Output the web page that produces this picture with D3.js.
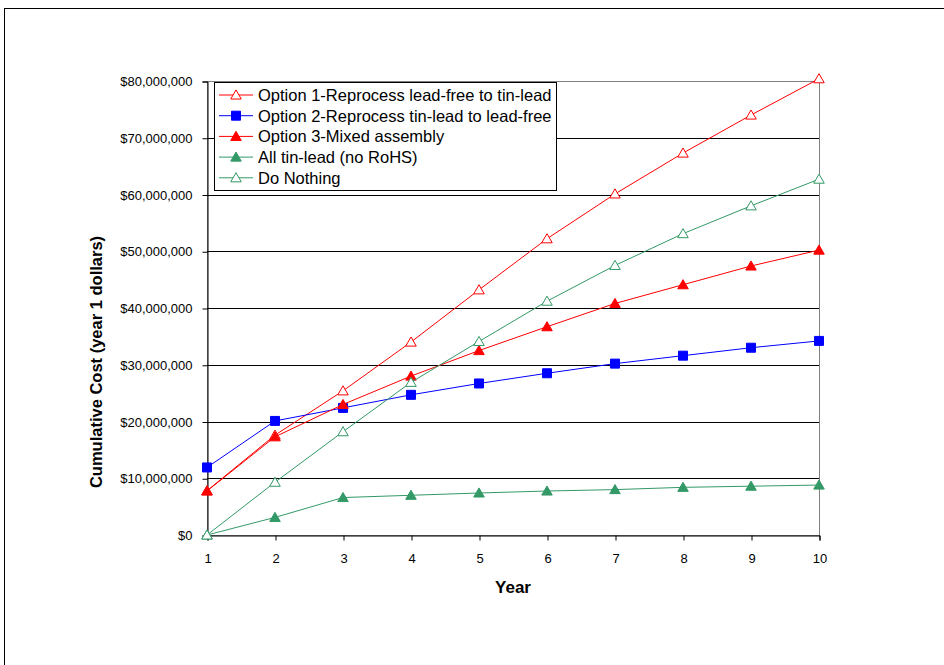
<!DOCTYPE html>
<html>
<head>
<meta charset="utf-8">
<script src="https://cdn.jsdelivr.net/npm/d3@7"></script>
<style>
  html, body { margin: 0; padding: 0; background: #fff; }
  svg text { font-family: "Liberation Sans", Arial, sans-serif; }
</style>
</head>
<body>
<svg id="chart" width="944" height="665"></svg>
<script>
// Cumulative cost per year, in year-1 dollars
const years = [1, 2, 3, 4, 5, 6, 7, 8, 9, 10];
const option1 = [7.8e6, 17.6e6, 25.4e6, 34.0e6, 43.2e6, 52.2e6, 60.1e6, 67.3e6, 74.0e6, 80.4e6];
const option2 = [11.9e6, 20.1e6, 22.4e6, 24.7e6, 26.7e6, 28.5e6, 30.2e6, 31.6e6, 33.0e6, 34.2e6];
const option3 = [7.75e6, 17.3e6, 23.0e6, 28.0e6, 32.5e6, 36.7e6, 40.8e6, 44.1e6, 47.4e6, 50.2e6];
const allTinLead = [0, 3.1e6, 6.6e6, 7.0e6, 7.4e6, 7.75e6, 8.0e6, 8.4e6, 8.6e6, 8.8e6];
const doNothing = [0, 9.3e6, 18.2e6, 26.9e6, 34.1e6, 41.2e6, 47.5e6, 53.1e6, 58.0e6, 62.7e6];
const yTicks = [0, 10e6, 20e6, 30e6, 40e6, 50e6, 60e6, 70e6, 80e6];

const series = [
  { name: "Option 1-Reprocess lead-free to tin-lead", values: option1, color: "#FF0000", marker: "triangle", filled: false },
  { name: "Option 2-Reprocess tin-lead to lead-free", values: option2, color: "#0000FF", marker: "square", filled: true },
  { name: "Option 3-Mixed assembly", values: option3, color: "#FF0000", marker: "triangle", filled: true },
  { name: "All tin-lead (no RoHS)", values: allTinLead, color: "#339966", marker: "triangle", filled: true },
  { name: "Do Nothing", values: doNothing, color: "#339966", marker: "triangle", filled: false }
];

const svg = d3.select("#chart");
const plot = { left: 207, right: 819, top: 81, bottom: 535 };

// Outer chart frame
svg.append("rect")
  .attr("x", 4.5).attr("y", 8.5).attr("width", 1000).attr("height", 700)
  .attr("fill", "none").attr("stroke", "#000").attr("stroke-width", 1);

const x = d3.scaleLinear().domain([1, 10]).range([plot.left, plot.right]);
const y = d3.scaleLinear().domain([0, 80e6]).range([plot.bottom, plot.top]);

// Plot area border
svg.append("rect")
  .attr("x", plot.left + 0.5).attr("y", plot.top + 0.5)
  .attr("width", plot.right - plot.left).attr("height", plot.bottom - plot.top)
  .attr("fill", "none").attr("stroke", "#808080");

// Horizontal gridlines
svg.append("g").selectAll("line")
  .data(yTicks.filter(v => v > 0 && v < 80e6))
  .join("line")
  .attr("x1", plot.left).attr("x2", plot.right)
  .attr("y1", d => Math.round(y(d)) + 0.5).attr("y2", d => Math.round(y(d)) + 0.5)
  .attr("stroke", "#000").attr("stroke-width", 1);

const fmt = d => "$" + d3.format(",")(d);

// Y axis
const yAxis = svg.append("g")
  .attr("transform", `translate(${plot.left + 0.5},0.5)`)
  .call(d3.axisLeft(y).tickValues(yTicks).tickFormat(fmt).tickSize(5).tickPadding(10));
yAxis.selectAll("path, line").attr("stroke", "#000");
yAxis.selectAll("text").attr("font-size", 13).attr("fill", "#000")
  .attr("font-family", "Liberation Sans, Arial, sans-serif");

// X axis
const xAxis = svg.append("g")
  .attr("transform", `translate(0.5,${plot.bottom + 0.5})`)
  .call(d3.axisBottom(x).tickValues(years).tickFormat(d3.format("d")).tickSize(5).tickPadding(13));
xAxis.selectAll("path, line").attr("stroke", "#000");
xAxis.selectAll("text").attr("font-size", 13).attr("fill", "#000")
  .attr("font-family", "Liberation Sans, Arial, sans-serif");

// Axis titles
svg.append("text")
  .attr("x", (plot.left + plot.right) / 2).attr("y", 593)
  .attr("text-anchor", "middle").attr("font-size", 17).attr("font-weight", "bold")
  .text("Year");
svg.append("text")
  .attr("transform", `translate(102,${(plot.top + plot.bottom) / 2 + 54}) rotate(-90)`)
  .attr("text-anchor", "middle").attr("font-size", 16.5).attr("font-weight", "bold")
  .text("Cumulative Cost (year 1 dollars)");

const triangle = d3.symbol().type(d3.symbolTriangle).size(48);
const square = d3.symbol().type(d3.symbolSquare).size(81);

function drawMarker(g, s) {
  const path = s.marker === "square" ? square() : triangle();
  return g.append("path")
    .attr("d", path)
    .attr("fill", s.filled ? s.color : "#fff")
    .attr("stroke", s.color)
    .attr("stroke-width", 1);
}

const line = d3.line().x((d, i) => x(years[i])).y(d => y(d));

// Series lines and markers
series.forEach(s => {
  const g = svg.append("g");
  g.append("path")
    .attr("d", line(s.values))
    .attr("fill", "none").attr("stroke", s.color).attr("stroke-width", 1);
  s.values.forEach((v, i) => {
    drawMarker(g, s).attr("transform", `translate(${x(years[i])},${y(v) + (s.marker === "triangle" ? 1 : 0)})`);
  });
});

// Legend
const legend = svg.append("g");
legend.append("rect")
  .attr("x", 214.5).attr("y", 82.5).attr("width", 342).attr("height", 108)
  .attr("fill", "#fff").attr("stroke", "#000");
series.forEach((s, i) => {
  const cy = 95 + i * 20.7;
  const row = legend.append("g");
  row.append("line").attr("x1", 219).attr("x2", 253).attr("y1", cy).attr("y2", cy)
    .attr("stroke", s.color);
  drawMarker(row, s).attr("transform", `translate(236,${cy + (s.marker === "triangle" ? 1 : 0)})`);
  row.append("text").attr("x", 258).attr("y", cy + 6).attr("font-size", 16.5).attr("fill", "#000")
    .text(s.name);
});
</script>
</body>
</html>
